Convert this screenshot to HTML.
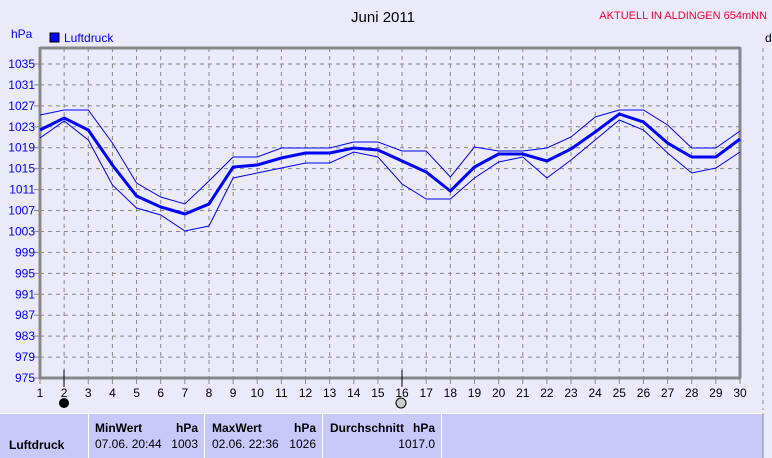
<!DOCTYPE html><html><head><style>body{margin:0;background:#eaeafb;}svg{display:block;font-family:"Liberation Sans",sans-serif;}</style></head><body>
<svg width="772" height="458" viewBox="0 0 772 458">
<rect width="772" height="458" fill="#eaeafb"/>
<text x="383" y="22" font-size="15" text-anchor="middle" fill="#000">Juni 2011</text>
<text x="767" y="19" font-size="11" text-anchor="end" fill="#ff0033">AKTUELL IN ALDINGEN 654mNN</text>
<text x="11" y="38" font-size="12" fill="#0000ff">hPa</text>
<rect x="50" y="33" width="9" height="9" fill="#0000ff" stroke="#000"/>
<text x="64" y="42" font-size="12" fill="#0000ff">Luftdruck</text>
<text x="765" y="42" font-size="12" fill="#000">d</text>
<g id="grid" stroke="#888" stroke-dasharray="4,4" stroke-width="1"></g>
<g id="labels"></g>
<line x1="40" y1="48" x2="740" y2="48" stroke="#888" stroke-width="3"/>
<line x1="740" y1="47" x2="740" y2="378" stroke="#888" stroke-width="3"/>
<line x1="40" y1="47" x2="40" y2="379" stroke="#888" stroke-width="3"/>
<line x1="39" y1="378" x2="741" y2="378" stroke="#888" stroke-width="3"/>
<line x1="763" y1="48" x2="763" y2="410" stroke="#888" stroke-dasharray="4,4"/>
<polyline id="mx" fill="none" stroke="#0000ff" stroke-width="1"/>
<polyline id="mn" fill="none" stroke="#0000ff" stroke-width="1"/>
<polyline id="me" fill="none" stroke="#0000ff" stroke-width="3"/>
<line x1="64" y1="370" x2="64" y2="387" stroke="#000"/>
<line x1="402" y1="370" x2="402" y2="387" stroke="#000"/>
<circle cx="64" cy="403" r="5" fill="#000"/>
<circle cx="401" cy="403" r="5" fill="#ccc" stroke="#000"/>
<rect x="0" y="413" width="763" height="45" fill="#c8c8fb"/>
<g stroke="#fff" stroke-width="1"><line x1="0" y1="413.5" x2="763" y2="413.5"/><line x1="88.5" y1="413" x2="88.5" y2="458"/><line x1="204.5" y1="413" x2="204.5" y2="458"/><line x1="322.5" y1="413" x2="322.5" y2="458"/><line x1="441.5" y1="413" x2="441.5" y2="458"/></g>
<line x1="763" y1="413" x2="763" y2="458" stroke="#888"/>
<g font-size="12" fill="#000">
<text x="9" y="449" font-weight="bold">Luftdruck</text>
<text x="95" y="432" font-weight="bold">MinWert</text><text x="198" y="432" font-weight="bold" text-anchor="end">hPa</text>
<text x="95" y="448">07.06.  20:44</text><text x="198" y="448" text-anchor="end">1003</text>
<text x="212" y="432" font-weight="bold">MaxWert</text><text x="316" y="432" font-weight="bold" text-anchor="end">hPa</text>
<text x="212" y="448">02.06.  22:36</text><text x="316" y="448" text-anchor="end">1026</text>
<text x="330" y="432" font-weight="bold">Durchschnitt</text><text x="435" y="432" font-weight="bold" text-anchor="end">hPa</text>
<text x="435" y="448" text-anchor="end">1017.0</text>
</g>
</svg>
<script>
var ns="http://www.w3.org/2000/svg",g=document.getElementById('grid'),lb=document.getElementById('labels');
function el(p,t,a,txt){var e=document.createElementNS(ns,t);for(var k in a)e.setAttribute(k,a[k]);if(txt)e.textContent=txt;p.appendChild(e);}
var dx=700/29;
for(var i=1;i<=30;i++){var x=40+(i-1)*dx;if(i>1&&i<30)el(g,'line',{x1:x,y1:48,x2:x,y2:378});el(lb,'line',{x1:x,y1:378,x2:x,y2:384,stroke:'#888'});el(lb,'text',{x:x,y:397,'font-size':12,'text-anchor':'middle'},String(i));}
for(var v=979;v<=1035;v+=4){var y=378-(v-975)*314/60;el(g,'line',{x1:40,y1:y,x2:740,y2:y});}
for(var v=975;v<=1035;v+=4){var y=378-(v-975)*314/60;el(lb,'line',{x1:34,y1:y,x2:40,y2:y,stroke:'#888'});el(lb,'text',{x:35,y:y+4,'font-size':12,'text-anchor':'end',fill:'#0000ff'},String(v));}
var me=[130,118,130,165,196,207,214,204,167,165,158,153,153,148,150,161,172,191,167,154,154,161,149,132,114,122,143,157,157,139];
var mx=[115,110,110,143,183,197,204,181,157,157,148,148,148,142,142,151,151,177,147,151,151,148,137,117,110,110,125,148,148,131];
var mn=[138,121,140,185,208,215,231,226,178,173,168,163,163,152,157,184,199,199,178,162,157,178,160,140,120,130,153,173,168,152];
function pts(a){return a.map(function(y,i){return (40+i*dx)+','+y}).join(' ');}
document.getElementById('me').setAttribute('points',pts(me));
document.getElementById('mx').setAttribute('points',pts(mx));
document.getElementById('mn').setAttribute('points',pts(mn));
</script>
</body></html>
